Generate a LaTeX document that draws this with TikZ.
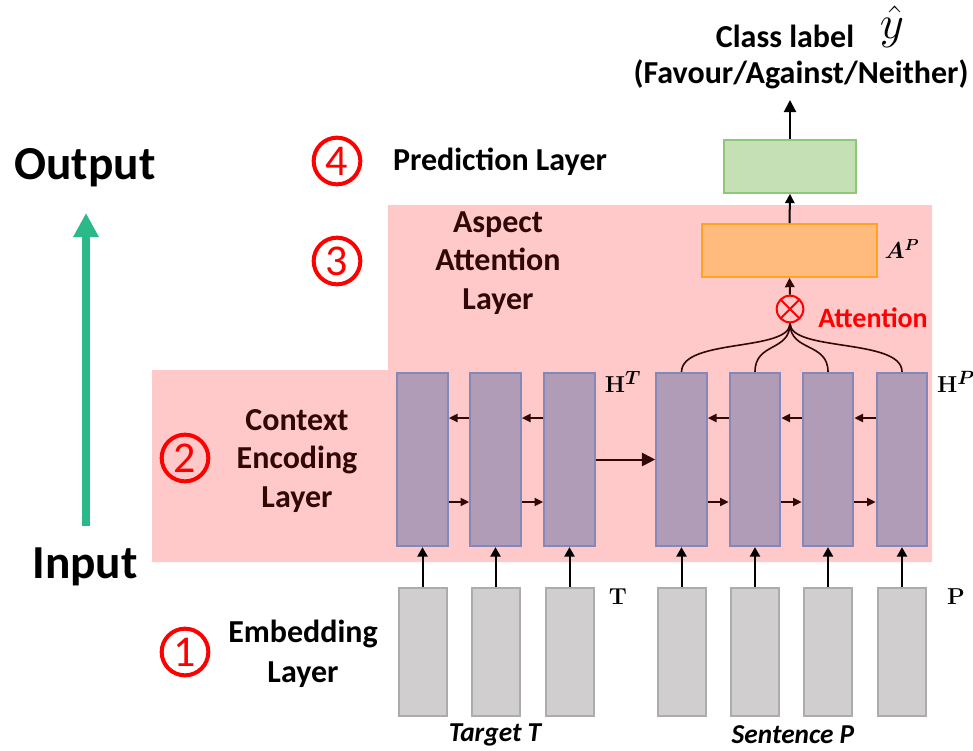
\documentclass[tikz,border=0pt]{standalone}
\usepackage{amsmath,bm}
\usepackage[no-math]{fontspec}
\setmainfont{Carlito}
\usetikzlibrary{arrows.meta,calc}
\definecolor{pinkbg}{HTML}{FFC9C9}
\definecolor{purpfill}{HTML}{B09CB6}
\definecolor{purpedge}{HTML}{8388B9}
\definecolor{grayfill}{HTML}{D0CECF}
\definecolor{grayedge}{HTML}{ACACAC}
\definecolor{greenfill}{HTML}{C5E0B4}
\definecolor{greenedge}{HTML}{8CC878}
\definecolor{orangefill}{HTML}{FFBA7D}
\definecolor{orangeedge}{HTML}{FFA420}
\definecolor{darkred}{HTML}{300808}
\definecolor{teal}{HTML}{2BB98A}
\begin{document}
\begin{tikzpicture}[x=0.75pt,y=-0.75pt,
  purp/.style={draw=purpedge,fill=purpfill,line width=1.5pt,minimum width=38pt,minimum height=130pt,inner sep=0pt},
  grey/.style={draw=grayedge,fill=grayfill,line width=1.5pt,minimum width=36pt,minimum height=96pt,inner sep=0pt},
  small/.style={draw=darkred,line width=1.5pt,-{Triangle[length=6.5pt,width=6pt]}},
  up/.style={draw=black,line width=1.5pt,-{Triangle[length=7pt,width=7.5pt]}},
  curv/.style={draw=darkred,line width=1.2pt},
  lbl/.style={font=\bfseries\fontsize{24}{29}\selectfont,align=center,inner sep=0pt},
  num/.style={circle,draw=red,line width=3pt,minimum size=35pt,inner sep=0pt,text=red,font=\fontsize{33}{33}\selectfont},
  big/.style={font=\bfseries\fontsize{35.5}{40}\selectfont,inner sep=0pt}]
\useasboundingbox (0,0) rectangle (973,750);
\fill[pinkbg] (152,370) -- (388,370) -- (388,205) -- (932,205) -- (932,562) -- (152,562) -- cycle;

% left side
\node[big] (out) at (85,168) {Output};
\node[big] (inp) at (85,567) {Input};
\coordinate (gbot) at (86,526);
\coordinate (gtop) at (86,213);
\draw[teal,line width=6pt,-{Triangle[length=18pt,width=18pt]}] (gbot) -- (gtop);

% circled numbers
\node[num] (n4) at (337,161) {4};
\node[num] (n3) at (337,261) {3};
\node[num] (n2) at (185,458) {2};
\node[num] (n1) at (185,652) {1};

% layer labels
\node[lbl] (pred) at (500,162) {Prediction Layer};
\node[lbl,text=darkred] (asp) at (498,263) {Aspect\\Attention\\Layer};
\node[lbl,text=darkred] (ctx) at (297,461) {Context\\Encoding\\Layer};
\node[lbl,font=\bfseries\fontsize{24}{30}\selectfont] (emb) at (303,654) {Embedding\\Layer};

% purple boxes
\foreach \i/\x in {1/422.5,2/495.5,3/569.5,4/681.5,5/755,6/828,7/902}{
  \node[purp] (h\i) at (\x,459.5) {};
  \node[grey] (e\i) at (\x,652) {};
  \draw[up,draw=black] (e\i.north) -- (h\i.south);
}
% horizontal arrows
\foreach \a/\b in {1/2,2/3,4/5,5/6,6/7}{
  \draw[small] (h\b.west |- 0,418) -- (h\a.east |- 0,418);
  \draw[small] (h\a.east |- 0,502) -- (h\b.west |- 0,502);
}
\draw[darkred,line width=1.5pt,-{Triangle[length=10pt,width=10pt]}] (h3.east) -- (h4.west);

% labels
\node (HT) at (623,382) {\fontsize{19}{19}\selectfont$\mathbf{H}^{\bm{T}}$};
\node (HP) at (956,382) {\fontsize{19}{19}\selectfont$\mathbf{H}^{\bm{P}}$};
\node (Tl) at (618,597) {\fontsize{19}{19}\selectfont$\mathbf{T}$};
\node (Pl) at (956,597) {\fontsize{19}{19}\selectfont$\mathbf{P}$};
\node[font=\bfseries\itshape\fontsize{20.5}{22}\selectfont,inner sep=0pt] (tt) at (495,735) {Target \textit{T}};
\node[font=\bfseries\itshape\fontsize{20.5}{22}\selectfont,inner sep=0pt] (sp) at (793,735) {Sentence \textit{P}};

% attention
\node[circle,draw=red,line width=1.5pt,minimum size=20pt,inner sep=0pt] (att) at (790,309) {};
\draw[red,line width=1.5pt] ($(att.center)+(45:10pt)$) -- ($(att.center)+(225:10pt)$);
\draw[red,line width=1.5pt] ($(att.center)+(135:10pt)$) -- ($(att.center)+(315:10pt)$);
\node[anchor=west,text=red,font=\bfseries\fontsize{21}{24}\selectfont,inner sep=0pt] (attl) at (818,318) {Attention};

\draw[curv] (h4.north) .. controls (682,338) and (790,352) .. (att.south);
\draw[curv] (h5.north) .. controls (755,342) and (790,352) .. (att.south);
\draw[curv] (h6.north) .. controls (828,342) and (790,352) .. (att.south);
\draw[curv] (h7.north) .. controls (902,338) and (790,352) .. (att.south);

% orange and green
\node[draw=orangeedge,fill=orangefill,line width=1.5pt,minimum width=131pt,minimum height=39.5pt,inner sep=0pt] (AP) at (789.5,250.5) {};
\node[inner sep=0pt] (APl) at (902,249) {\fontsize{17}{17}\selectfont$\bm{A}^{\bm{P}}$};
\node[draw=greenedge,fill=greenfill,line width=1.5pt,minimum width=99pt,minimum height=39.5pt,inner sep=0pt] (pr) at (790,166.5) {};
\draw[darkred,line width=1.5pt,-{Triangle[length=7pt,width=7pt]}] (att.north) -- (AP.south);
\draw[black,line width=1.5pt,-{Triangle[length=7pt,width=7pt]}] (AP.north) -- (pr.south);
\coordinate (clsbot) at (790,100);
\draw[black,line width=1.5pt,-{Triangle[length=9pt,width=9pt]}] (pr.north) -- (clsbot);

\node[font=\bfseries\fontsize{24}{28}\selectfont,inner sep=0pt] (cls) at (785,36) {Class label};
\node[inner sep=0pt,scale=1.7] (yhat) at (892,27) {\fontsize{20}{20}\selectfont$\hat{y}$};
\node[font=\bfseries\fontsize{24}{28}\selectfont,inner sep=0pt] (fav) at (801,74) {(Favour/Against/Neither)};
\end{tikzpicture}
\end{document}
